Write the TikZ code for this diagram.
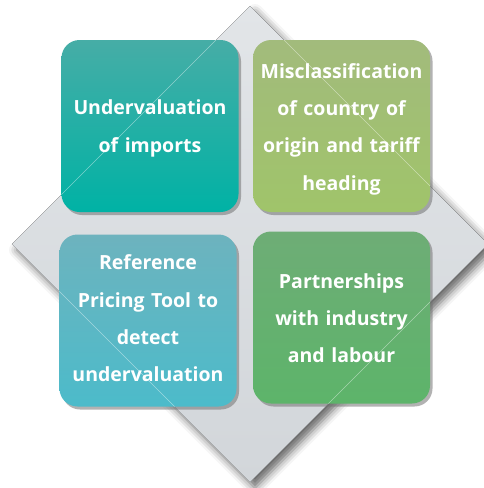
\documentclass[tikz,border=0pt]{standalone}
\usepackage{fontspec}
\setmainfont{Open Sans}
\usetikzlibrary{shadows,shadows.blur}
\definecolor{diamondtop}{HTML}{E2E5E8}
\definecolor{diamondbot}{HTML}{D2D6DA}
\definecolor{tealtop}{HTML}{46ADA6}
\definecolor{tealbot}{HTML}{00B2A5}
\definecolor{olivetop}{HTML}{A2BB7C}
\definecolor{olivebot}{HTML}{A0C46A}
\definecolor{bluetop}{HTML}{6DB3BE}
\definecolor{bluebot}{HTML}{4CBBCA}
\definecolor{greentop}{HTML}{6EAD76}
\definecolor{greenbot}{HTML}{5DB46A}
\tikzset{
  tile/.style={rectangle, rounded corners=18pt, minimum width=177pt,
    minimum height=172pt, inner sep=0pt,
    drop shadow={shadow xshift=2.5pt, shadow yshift=-3pt, opacity=0.55, fill=black!55}},
  tiletext/.style={inner sep=0pt, text width=170pt, align=center,
    text=white, font=\bfseries\fontsize{19.5}{37.3}\selectfont},
  edgeglint/.style={white, opacity=0.45, line width=0.6pt}
}
\begin{document}
\begin{tikzpicture}[x=1pt,y=-1pt]
\useasboundingbox (0,0) rectangle (484,488);
\begin{scope}
  \clip (0,0) rectangle (484,488);
  % grey diamond behind the four tiles
  \coordinate (dt) at (250,6);
  \coordinate (dr) at (488,244);
  \coordinate (db) at (250,482);
  \coordinate (dl) at (12,244);
  \fill[blur shadow={shadow xshift=5pt, shadow yshift=-6pt,
        shadow blur radius=8pt, shadow opacity=60},
        top color=diamondtop, bottom color=diamondbot]
    (dt) -- (dr) -- (db) -- (dl) -- cycle;

  % the four tiles
  \node[tile, top color=tealtop, bottom color=tealbot] (tl) at (150,126) {};
  \node[tile, top color=olivetop, bottom color=olivebot] (tr) at (341.5,126) {};
  \node[tile, top color=bluetop, bottom color=bluebot] (bl) at (148,320.5) {};
  \node[tile, top color=greentop, bottom color=greenbot] (br) at (341.5,317.5) {};

  % tile captions
  \node[tiletext] (tlt) at ([yshift=-2.5pt]tl.center) {Undervaluation\\of imports};
  \node[tiletext] (trt) at ([yshift=-3pt]tr.center)
    {Misclassification\\of country of\\origin and tariff\\heading};
  \node[tiletext] (blt) at ([yshift=2pt]bl.center)
    {Reference\\Pricing Tool to\\detect\\undervaluation};
  \node[tiletext] (brt) at ([yshift=-0.5pt]br.center)
    {Partnerships\\with industry\\and labour};

  % diamond outline faintly visible through the tiles
  \begin{scope}
    \clip[rounded corners=18pt]
      (tl.south west) rectangle (tl.north east)
      (tr.south west) rectangle (tr.north east)
      (bl.south west) rectangle (bl.north east)
      (br.south west) rectangle (br.north east);
    \draw[edgeglint] (dt) -- (dr) -- (db) -- (dl) -- cycle;
  \end{scope}
\end{scope}
\end{tikzpicture}
\end{document}
